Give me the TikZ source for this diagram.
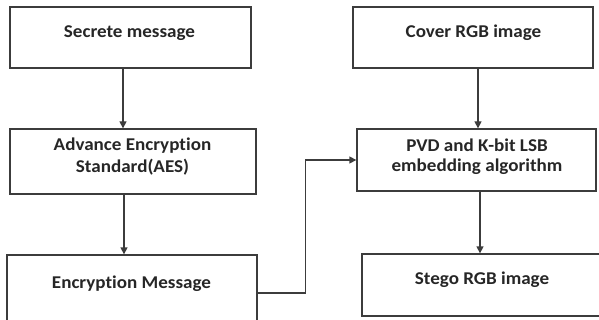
\documentclass[tikz,border=0pt]{standalone}
\usepackage{fontspec}
\setmainfont{Carlito}[FakeStretch=1.06, Ligatures=NoCommon]
\usetikzlibrary{arrows.meta}
\definecolor{edge}{HTML}{3C3C3C}
\tikzset{
  box/.style={draw=edge, line width=1.3pt, rectangle, inner sep=0pt},
  txt/.style={anchor=base, inner sep=0pt, font=\bfseries\fontsize{18}{18}\selectfont, text=black!85},
  arr/.style={draw=edge, line width=1.3pt, -{Triangle[width=7pt,length=7pt]}}
}
\begin{document}
\begin{tikzpicture}[x=1pt,y=-1pt]
\useasboundingbox (0,0) rectangle (599,320);
% boxes
\node[box, minimum width=241pt, minimum height=61pt] (b1) at (130.5,37.5) {};
\node[box, minimum width=246pt, minimum height=65pt] (b2) at (133,161.5) {};
\node[box, minimum width=250pt, minimum height=76pt] (b3) at (132,293) {};
\node[box, minimum width=240pt, minimum height=61pt] (b4) at (473,37.5) {};
\node[box, minimum width=239pt, minimum height=62pt] (b5) at (476.5,160) {};
\node[box, minimum width=250pt, minimum height=62pt] (b6) at (487,285) {};
% labels
\node[txt] (t1) at (129.5,37.5) {Secrete message};
\node[txt] (t2a) at (132.5,151) {Advance Encryption};
\node[txt] (t2b) at (132.5,173) {Standard(AES)};
\node[txt] (t3) at (131.5,288) {Encryption Message};
\node[txt] (t4) at (473.5,37.5) {Cover RGB image};
\node[txt] (t5a) at (477,152) {PVD and K-bit LSB};
\node[txt] (t5b) at (477,172) {embedding algorithm};
\node[txt] (t6) at (482,284) {Stego RGB image};
% arrow columns
\coordinate (c1) at (123,0);
\coordinate (c2) at (124,0);
\coordinate (c3) at (478,0);
\coordinate (c4) at (480,0);
% connectors
\draw[arr] (b1.south -| c1) -- (b2.north -| c1);
\draw[arr] (b2.south -| c2) -- (b3.north -| c2);
\draw[arr] (b4.south -| c3) -- (b5.north -| c3);
\draw[arr] (b5.south -| c4) -- (b6.north -| c4);
\draw[arr] (b3.east) -- ++(48,0) |- (b5.west);
\end{tikzpicture}
\end{document}
